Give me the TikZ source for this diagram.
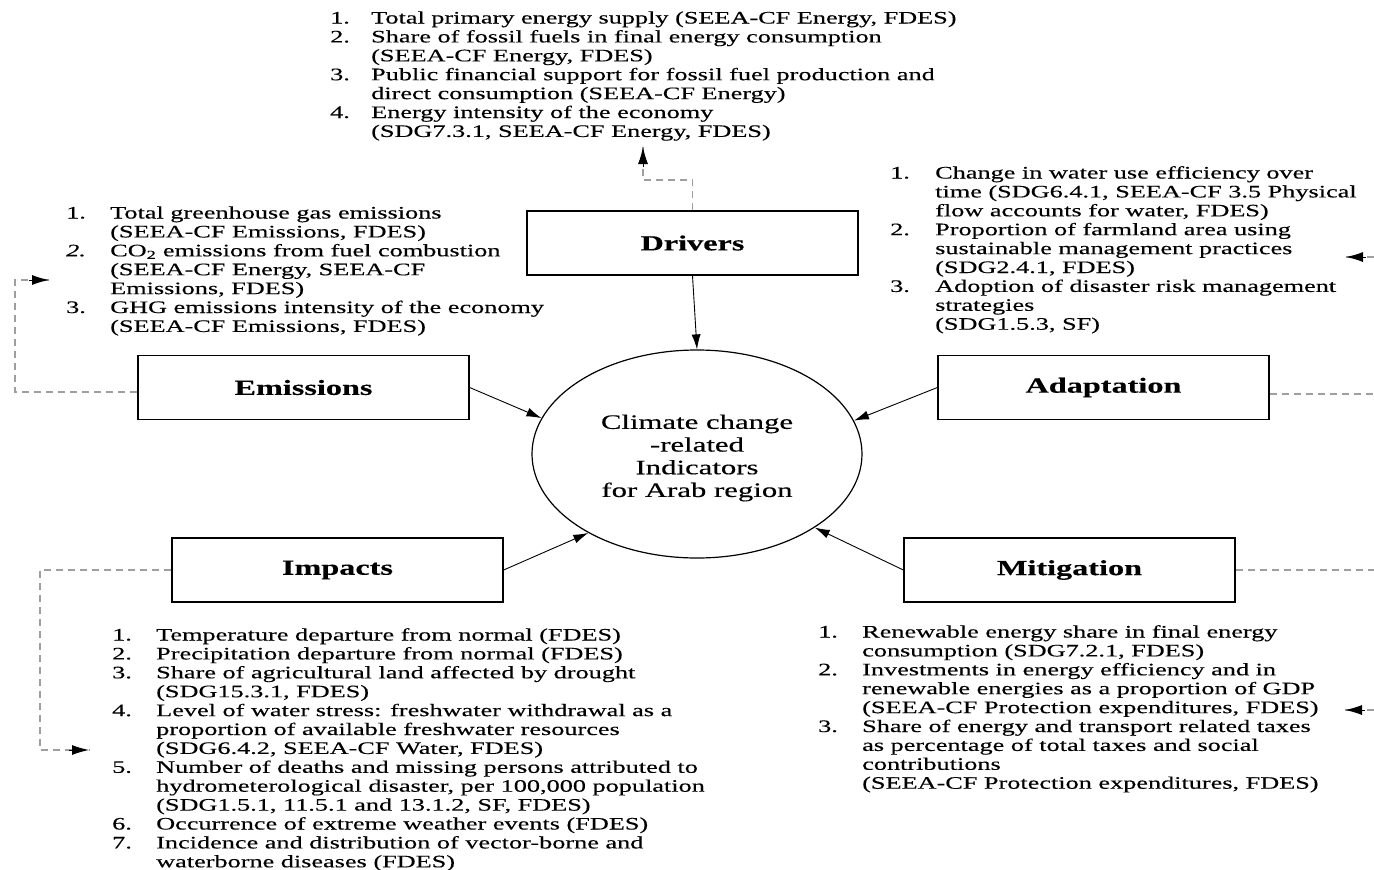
\documentclass[tikz,border=0pt]{standalone}
\usepackage{fontspec}
\setmainfont{Liberation Serif}[FakeStretch=1.5,FakeBold=0.3]
\usetikzlibrary{arrows.meta,shapes.geometric,calc}
\begin{document}
\begin{tikzpicture}[x=1pt,y=-1pt,
  catbox/.style={draw, line width=1.3pt, minimum width=331pt, minimum height=64pt, inner sep=0pt, font=\fontsize{21.5}{25}\selectfont\bfseries},
  lst/.style={anchor=base west, inner sep=0pt, font=\fontsize{17.5}{18.9}\selectfont},
  solidarr/.style={line width=0.9pt, -{Latex[length=15pt,width=9pt]}},
  dashline/.style={draw=gray!75, line width=1.1pt, dash pattern=on 7pt off 5pt},
  tiparr/.style={draw=black, solid, line width=1pt, -{Latex[length=17pt,width=10pt]}}]
\useasboundingbox (0,0) rectangle (1374,870);

% central ellipse
\node[ellipse, draw, line width=1.2pt, minimum width=330pt, minimum height=208pt, inner sep=0pt] (c) at (697,454) {};
\node[align=center, inner sep=0pt, font=\fontsize{20.5}{22.7}\selectfont] (ctext) at (697,458)
  {Climate change\\-related\\Indicators\\for Arab region};

% category boxes
\node[catbox] (drv) at (692.5,243) {Drivers};
\node[catbox] (emi) at (303.5,387.5) {Emissions};
\node[catbox] (ada) at (1103.5,387.5) {Adaptation};
\node[catbox] (imp) at (337.5,570) {Impacts};
\node[catbox] (mit) at (1069.5,570) {Mitigation};

% solid arrows to centre
\draw[solidarr] (drv.south) -- (c.north);
\draw[solidarr] (emi.east) -- (c.167);
\draw[solidarr] (ada.west) -- (c.12);
\draw[solidarr] (imp.east) -- (c.216);
\draw[solidarr] (mit.west) -- (c.328);

% indicator lists
\node[lst] (ltop) at (330,23.5) {\begin{tabular}[t]{@{}p{41pt}@{}l@{}}
1. & Total primary energy supply (SEEA-CF Energy, FDES)\\
2. & Share of fossil fuels in final energy consumption\\
   & (SEEA-CF Energy, FDES)\\
3. & Public financial support for fossil fuel production and\\
   & direct consumption (SEEA-CF Energy)\\
4. & Energy intensity of the economy\\
   & (SDG7.3.1, SEEA-CF Energy, FDES)
\end{tabular}};

\node[lst] (lemi) at (66,218.5) {\begin{tabular}[t]{@{}p{44pt}@{}l@{}}
1. & Total greenhouse gas emissions\\
   & (SEEA-CF Emissions, FDES)\\
\textit{2.} & CO\textsubscript{2} emissions from fuel combustion\\
   & (SEEA-CF Energy, SEEA-CF\\
   & Emissions, FDES)\\
3. & GHG emissions intensity of the economy\\
   & (SEEA-CF Emissions, FDES)
\end{tabular}};

\node[lst] (lada) at (890,178.5) {\begin{tabular}[t]{@{}p{45pt}@{}l@{}}
1. & Change in water use efficiency over\\
   & time (SDG6.4.1, SEEA-CF 3.5 Physical\\
   & flow accounts for water, FDES)\\
2. & Proportion of farmland area using\\
   & sustainable management practices\\
   & (SDG2.4.1, FDES)\\
3. & Adoption of disaster risk management\\
   & strategies\\
   & (SDG1.5.3, SF)
\end{tabular}};

\node[lst] (limp) at (112,640.5) {\begin{tabular}[t]{@{}p{44pt}@{}l@{}}
1. & Temperature departure from normal (FDES)\\
2. & Precipitation departure from normal (FDES)\\
3. & Share of agricultural land affected by drought\\
   & (SDG15.3.1, FDES)\\
4. & Level of water stress: freshwater withdrawal as a\\
   & proportion of available freshwater resources\\
   & (SDG6.4.2, SEEA-CF Water, FDES)\\
5. & Number of deaths and missing persons attributed to\\
   & hydrometerological disaster, per 100,000 population\\
   & (SDG1.5.1, 11.5.1 and 13.1.2, SF, FDES)\\
6. & Occurrence of extreme weather events (FDES)\\
7. & Incidence and distribution of vector-borne and\\
   & waterborne diseases (FDES)
\end{tabular}};

\node[lst] (lmit) at (818,637.5) {\begin{tabular}[t]{@{}p{44pt}@{}l@{}}
1. & Renewable energy share in final energy\\
   & consumption (SDG7.2.1, FDES)\\
2. & Investments in energy efficiency and in\\
   & renewable energies as a proportion of GDP\\
   & (SEEA-CF Protection expenditures, FDES)\\
3. & Share of energy and transport related taxes\\
   & as percentage of total taxes and social\\
   & contributions\\
   & (SEEA-CF Protection expenditures, FDES)
\end{tabular}};

% dashed feedback connectors (dashed body + solid arrow tip)
\coordinate (d1) at (692.5,180);
\coordinate (d2) at (643,180);
\coordinate (d3) at (643,147);
\draw[dashline] (drv.north) -- (d1) -- (d2) -- (d3);
\draw[tiparr] ($(d3)!20pt!(d2)$) -- (d3);

\coordinate (e0) at (137,392);
\coordinate (e1) at (15,280);
\coordinate (e2) at (49,280);
\draw[dashline] (e0) -| (e1) -- (e2);
\draw[tiparr] ($(e2)!20pt!(e1)$) -- (e2);

\coordinate (i1) at (40,750);
\coordinate (i2) at (89,750);
\draw[dashline] (imp.west) -| (i1) -- (i2);
\draw[tiparr] ($(i2)!20pt!(i1)$) -- (i2);

\coordinate (a0) at (1270,394);
\coordinate (a1) at (1374,394);
\draw[dashline] (a0) -- (a1);
\coordinate (a2) at (1374,257);
\coordinate (a3) at (1346,257);
\draw[dashline] (a2) -- (a3);
\draw[tiparr] ($(a3)!20pt!(a2)$) -- (a3);

\coordinate (m1) at (1374,570);
\draw[dashline] (mit.east) -- (m1);
\coordinate (m2) at (1374,710);
\coordinate (m3) at (1345,710);
\draw[dashline] (m2) -- (m3);
\draw[tiparr] ($(m3)!20pt!(m2)$) -- (m3);
\end{tikzpicture}
\end{document}
